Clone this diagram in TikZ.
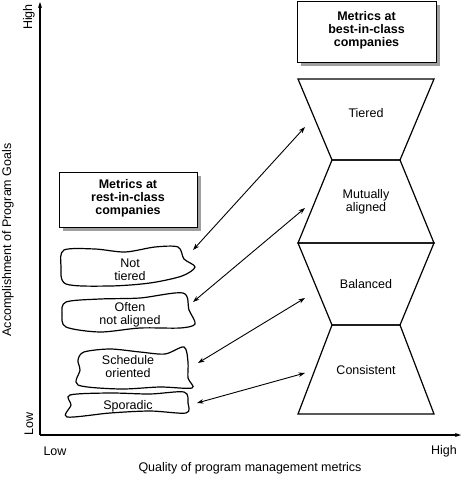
\documentclass[tikz,border=0pt]{standalone}
\usepackage{fontspec}
\setmainfont{Liberation Sans}
\usetikzlibrary{arrows.meta}
\tikzset{
  lbl/.style={font=\fontsize{12.5}{13}\selectfont, align=center, inner sep=0pt},
  boxlbl/.style={font=\fontsize{12.5}{13}\selectfont\bfseries, align=center, inner sep=0pt},
  blob/.style={line width=1.2pt, fill=white},
  trap/.style={line width=1.2pt},
  dbl/.style={{Stealth[length=6.5pt,width=4.5pt]}-{Stealth[length=6.5pt,width=4.5pt]}, line width=0.9pt},
  axis/.style={-{Stealth[length=6pt,width=4pt]}, line width=1.1pt},
  shadowbox/.style={fill=gray!75, draw=none},
  mainbox/.style={fill=white, draw=black, line width=0.9pt}
}
\begin{document}
\begin{tikzpicture}[x=1pt,y=-1pt]
\useasboundingbox (0,0) rectangle (463,478);
% axes
\coordinate (org) at (40,435);
\coordinate (ytip) at (40,2);
\coordinate (xtip) at (461,435);
\draw[axis] (org) -- (ytip);
\draw[axis] (org) -- (xtip);
\node[lbl, rotate=90] (yhigh) at (29,17) {High};
\node[lbl, rotate=90] (ylow) at (29,424) {Low};
\node[lbl, rotate=90] (ytitle) at (8,240) {Accomplishment of Program Goals};
\node[lbl] (xlow) at (55,451) {Low};
\node[lbl] (xhigh) at (444,451) {High};
\node[lbl] (xtitle) at (250,468) {Quality of program management metrics};
% best-in-class box
\fill[shadowbox] (301,5) rectangle (440,66);
\draw[mainbox] (297,1) rectangle (436,62);
\node[boxlbl] (best) at (366.5,30) {Metrics at\\best-in-class\\companies};
% rest-in-class box
\fill[shadowbox] (63,176) rectangle (201,231);
\draw[mainbox] (59,172) rectangle (197,227);
\node[boxlbl] (rest) at (128,198) {Metrics at\\rest-in-class\\companies};
% hourglass stack
\draw[trap] (298,79) -- (434,79) -- (400,160) -- (332,160) -- cycle;
\draw[trap] (332,160) -- (400,160) -- (434,243) -- (298,243) -- cycle;
\draw[trap] (298,243) -- (434,243) -- (400,325) -- (332,325) -- cycle;
\draw[trap] (332,325) -- (400,325) -- (434,414) -- (298,414) -- cycle;
\node[lbl] (tiered) at (366,113) {Tiered};
\node[lbl] (mutual) at (366,202) {Mutually\\aligned};
\node[lbl] (balanced) at (366,284) {Balanced};
\node[lbl] (consistent) at (366,370) {Consistent};
% blobs
\draw[blob] plot[smooth cycle, tension=0.5] coordinates {
 (64,250) (95,249) (125,252) (155,247) (178,247) (184,259) (195,267)
 (182,276) (150,283) (110,286) (66,284) (61,266)};
\draw[blob] plot[smooth cycle, tension=0.5] coordinates {
 (66,302) (100,299) (140,298) (183,293) (189,310) (195,324)
 (180,328) (140,328) (100,332) (66,327) (62,314)};
\draw[blob] plot[smooth cycle, tension=0.5] coordinates {
 (84,352) (110,349) (140,352) (165,354) (184,347) (188,362) (188,378) (192,388)
 (160,387) (120,389) (78,385) (80,370) (78,360)};
\draw[blob] plot[smooth cycle, tension=0.5] coordinates {
 (70,395) (110,393) (150,394) (184,392) (188,403) (186,413)
 (150,411) (110,413) (67,417) (71,405)};
\node[lbl] (nottiered) at (130,270) {Not\\tiered};
\node[lbl] (often) at (130,315) {Often\\not aligned};
\node[lbl] (schedule) at (128,367) {Schedule\\oriented};
\node[lbl] (sporadic) at (128,406) {Sporadic};
% arrow end points
\coordinate (a1l) at (193,250); \coordinate (a1r) at (305,127);
\coordinate (a2l) at (193,302); \coordinate (a2r) at (305,208);
\coordinate (a3l) at (198,363); \coordinate (a3r) at (305,298);
\coordinate (a4l) at (197,403); \coordinate (a4r) at (305,373);
\draw[dbl] (a1l) -- (a1r);
\draw[dbl] (a2l) -- (a2r);
\draw[dbl] (a3l) -- (a3r);
\draw[dbl] (a4l) -- (a4r);
\end{tikzpicture}
\end{document}
